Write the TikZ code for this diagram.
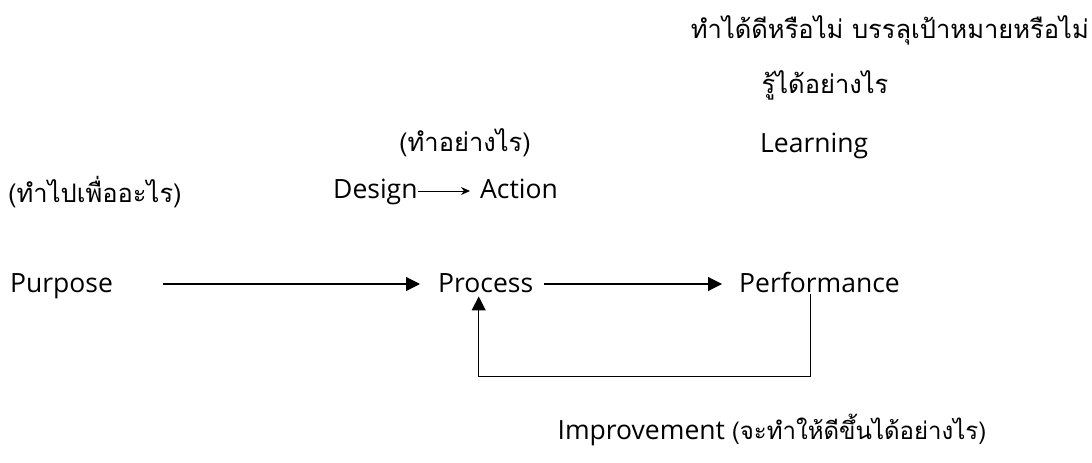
\documentclass[tikz,border=0pt]{standalone}
\usepackage{fontspec}
\setmainfont{Open Sans}
\newfontfamily\thaifont[Script=Thai]{Loma}
\usetikzlibrary{arrows.meta,positioning}

\begin{document}
\begin{tikzpicture}[x=1pt,y=-1pt,font=\fontsize{26.5}{32}\selectfont,
    every node/.style={inner sep=0pt},
    word/.style={anchor=base west},
    thai/.style={font=\thaifont\fontsize{25.5}{31}\selectfont},
    flow/.style={line width=1.2pt,-{Triangle[length=14pt,width=14pt]}}]
  \useasboundingbox (0,0) rectangle (1092,463);
  % main row
  \node[word] (purpose) at (10,292) {Purpose};
  \node[word] (process) at (438,292) {Process};
  \node[word] (perf) at (739,292) {Performance};
  % process detail
  \node[word] (design) at (333,198) {Design};
  \node[word] (action) at (480,198) {Action};
  \node[word] (learn) at (760,152) {Learning};
  % questions
  \node[thai,anchor=west] (why) at (8,192) {(ทำไปเพื่ออะไร)};
  \node[thai] (how) at (465,143) {(ทำอย่างไร)};
  \node[thai] (know) at (825,85) {รู้ได้อย่างไร};
  \node[thai,anchor=east] (goal) at (1089,30) {ทำได้ดีหรือไม่ บรรลุเป้าหมายหรือไม่};
  \node (improve) at (772,430) {Improvement {\thaifont\fontsize{24}{29}\selectfont(จะทำให้ดีขึ้นได้อย่างไร)}};
  % connectors
  \draw[flow] ([xshift=50pt,yshift=8pt]purpose.base east) -- ([xshift=-18pt,yshift=8pt]process.base west);
  \draw[flow] ([xshift=11pt,yshift=8pt]process.base east) -- ([xshift=-17pt,yshift=8pt]perf.base west);
  \draw[line width=1pt,-{Stealth[length=9pt,width=8pt]},shorten >=10pt]
    ([yshift=7pt]design.base east) -- ([yshift=7pt]action.base west);
  \draw[flow] ([xshift=-9pt,yshift=-2pt]perf.south) -- ++(0,82)
    -| ([xshift=-7pt,yshift=-4pt]process.south);
\end{tikzpicture}
\end{document}
